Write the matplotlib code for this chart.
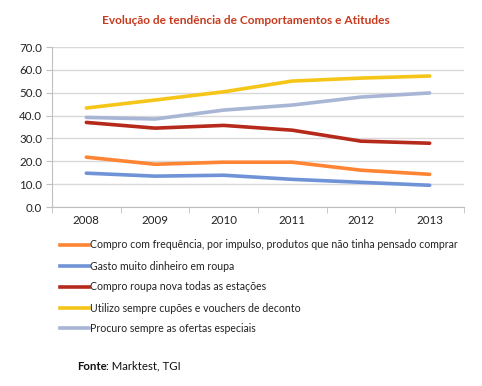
import matplotlib
matplotlib.use("Agg")
import matplotlib.pyplot as plt
from matplotlib.lines import Line2D

plt.rcParams['font.family'] = ['Lato', 'DejaVu Sans']

years = ["2008", "2009", "2010", "2011", "2012", "2013"]
impulso = [21.8, 18.7, 19.6, 19.6, 16.1, 14.3]
gasto = [14.8, 13.5, 13.9, 12.1, 10.8, 9.5]
estacoes = [37.0, 34.5, 35.7, 33.6, 28.8, 27.9]
cupoes = [43.3, 46.8, 50.4, 55.1, 56.4, 57.3]
ofertas = [39.2, 38.5, 42.4, 44.6, 48.1, 49.9]

labels = [
    "Compro com frequência, por impulso, produtos que não tinha pensado comprar",
    "Gasto muito dinheiro em roupa",
    "Compro roupa nova todas as estações",
    "Utilizo sempre cupões e vouchers de deconto",
    "Procuro sempre as ofertas especiais",
]
series = [impulso, gasto, estacoes, cupoes, ofertas]
colors = ["#FF8433", "#6F93D6", "#B52A1A", "#F5C518", "#A9B5D4"]

W, H = 482, 386
fig = plt.figure(figsize=(W / 100, H / 100), dpi=100)
fig.patch.set_facecolor("white")

ax = fig.add_axes([52 / W, 1 - 207 / H, (464 - 52) / W, (207 - 47) / H])
x = list(range(len(years)))
for s, c in zip(series, colors):
    ax.plot(x, s, color=c, lw=2.6, solid_capstyle="round", zorder=3)

ax.set_xlim(-0.5, len(years) - 0.5)
ax.set_ylim(0, 70)
ax.set_yticks(range(0, 71, 10))
ax.set_yticklabels([f"{v:.1f}" for v in range(0, 71, 10)], fontsize=8.3, color="#222222")
ax.set_xticks(x)
ax.set_xticklabels(years, fontsize=8.3, color="#222222")
ax.set_xticks([i - 0.5 for i in range(len(years) + 1)], minor=True)
ax.tick_params(axis="x", which="major", length=0, pad=6)
ax.tick_params(axis="x", which="minor", length=4, color="#BFBFBF")
ax.tick_params(axis="y", length=4, color="#BFBFBF", pad=3)
ax.grid(axis="y", color="#D9D9D9", lw=1, zorder=0)
for side in ["top", "right"]:
    ax.spines[side].set_visible(False)
ax.spines["left"].set_color("#BFBFBF")
ax.spines["bottom"].set_color("#BFBFBF")

fig.text(246 / W, 1 - 21 / H, "Evolução de tendência de Comportamentos e Atitudes",
         ha="center", va="center", fontsize=8.6, fontweight="bold", color="#C63A1E")

rows = [245, 266, 287, 308, 328]
for lab, c, yy in zip(labels, colors, rows):
    fy = 1 - yy / H
    fig.add_artist(Line2D([60 / W, 89 / W], [fy, fy], color=c, lw=2.6,
                          transform=fig.transFigure))
    fig.text(90 / W, fy, lab, ha="left", va="center", fontsize=7.6, color="#222222")

fig.text(77 / W, 1 - 366 / H, "Fonte", ha="left", va="center", fontsize=8.2,
         fontweight="bold", color="#111111")
fig.text(106 / W, 1 - 366 / H, ": Marktest, TGI", ha="left", va="center", fontsize=8.2,
         color="#111111")

fig.savefig("out.png", dpi=100, facecolor="white")
